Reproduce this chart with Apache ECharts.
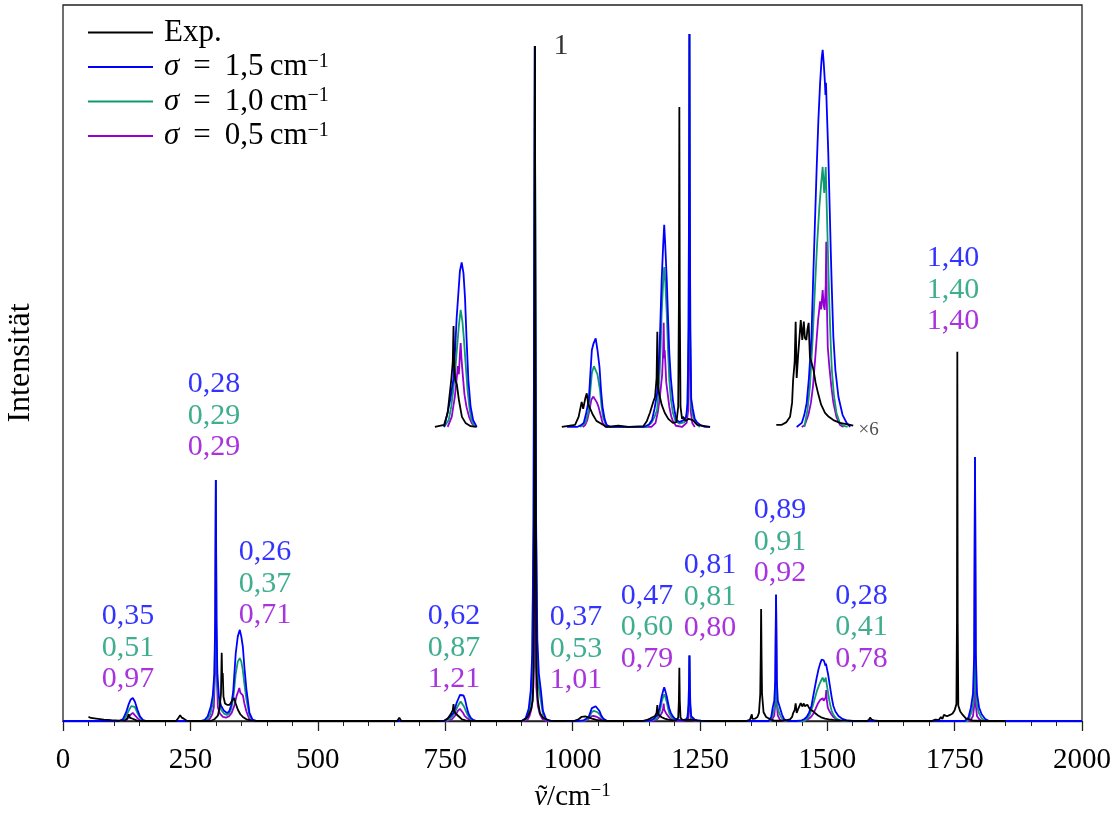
<!DOCTYPE html>
<html>
<head>
<meta charset="utf-8">
<script src="https://cdn.jsdelivr.net/npm/echarts@6/dist/echarts.min.js"></script>
<style>
html, body { margin: 0; padding: 0; background: #fff; }
#chart { width: 1114px; height: 821px; }
</style>
</head>
<body>
<div id="chart"></div>
<script>
// Intensitäten relativ zur Bande bei 926 cm-1 (= 100)
var expData = [
    [50,0.6],[55,0.45],[65,0.35],[80,0.2],[95,0.12],[110,0.05],[122,0.05],[126,0.4],[129,1.0],[131,0.5],[134,0.6],[138,0.3],[145,0.05],[160,0],
    [222,0],[226,0.4],[230,0.85],[233,0.5],[237,0.35],[243,0.05],[250,0],
    [290,0],[298,0.3],[304,0.8],[307.5,2.1],[310,4],[311.5,10.1],[312.5,6],[313.5,7.1],[315,3.6],[318,2.6],[322,2.4],[327,2.4],[332,3.0],[336,3.4],[339,2.6],[343,1.7],[348,1.0],[353,0.6],[360,0.25],[370,0.05],[380,0],
    [656,0],[660,0.5],[664,0],
    [730,0],[748,0.05],[755,0.35],[762,1.16],[765,1.6],[766.5,2.49],[768,1.5],[770,1.15],[773,1.05],[777,0.67],[783,0.25],[790,0.1],[800,0.02],[812,0],
    [900,0],[906,0.2],[912,0.6],[918,1.6],[922,3.0],[924,8],[925.3,40],[926.3,100],[927.5,40],[929,8],[932,3],[936,1.2],[942,0.5],[950,0.2],[960,0],
    [979,0],[1005,0.05],[1012,0.25],[1018,0.62],[1021,0.45],[1025,0.7],[1028,0.83],[1031,0.55],[1034,0.47],[1040,0.3],[1047,0.15],[1054,0.1],[1067,0],[1090,0.03],[1110,0],
    [1139,0.02],[1146,0.15],[1152,0.35],[1158,0.6],[1162,0.74],[1165,1.2],[1166.5,2.35],[1168,1.0],[1170,0.83],[1175,0.55],[1181,0.35],[1188,0.2],[1197,0.1],[1204,0.12],
    [1207.5,0.5],[1208.8,3],[1209.7,7.9],[1210.6,3],[1212,0.5],[1215,0.2],[1217,0.25],[1222,0.15],[1228,0.2],[1236,0.17],[1245,0.05],[1260,0.02],[1270,0],
    [1340,0],[1348,0.15],[1351,0.3],[1352,1.0],[1353,0.3],[1358,0.35],[1363,0.6],[1366,1.2],[1368.5,4],[1369.5,10],[1370.2,16.6],[1371,10],[1372,4],[1375,1.3],[1380,0.6],[1388,0.25],[1395,0.1],[1400,0.05],
    [1410,0.05],[1420,0.12],[1427,0.25],[1431,0.6],[1433,1.16],[1436,1.6],[1438,2.6],[1440,1.21],[1443,1.8],[1446,2.3],[1448,2.64],[1451,2.15],[1454,2.6],[1456,2.2],[1459,2.15],[1461,2.4],[1463.5,2.57],
    [1466,1.73],[1469,1.6],[1473,1.41],[1477,1.1],[1482,0.83],[1488,0.55],[1495.6,0.35],[1503,0.25],[1512,0.17],[1525,0.1],[1545,0.05],[1551,0.03],
    [1578,0],[1582,0.2],[1584,0.5],[1587,0.2],[1592,0.1],[1600,0],
    [1705,0],[1712,0.2],[1715,0.4],[1719,0.15],[1723,0.6],[1726,0.3],[1729,0.9],[1735,0.7],[1741,0.9],[1746,1.1],[1750,1.6],[1753.5,2.5],[1754.6,15],[1755.3,54.7],[1756,15],[1757.2,2.3],
    [1761,1.4],[1766,0.9],[1772,0.4],[1785,0.1],[1800,0],[1850,0]
];

var sigma15Data = [
    [0,0],[110,0],[118,0.3],[124,1.3],[129,2.5],[133,3.2],[137,3.4],[141,2.9],[146,1.7],[151,0.7],[157,0.15],[163,0],
    [270,0],[278,0.15],[284,0.7],[290,2.1],[294,3.8],[297,7],[298.8,15],[300,35.7],[301.2,15],[303,7],[306,3.6],[310,2.3],[316,1.5],[322,1.2],[326,1.4],
    [330,2.3],[334,4.3],[339,10],[343,12.5],[347,13.5],[350,12.5],[353,11],[356,8],[360,4.7],[366,1.2],[372,0.2],[380,0],
    [740,0],[748,0],[753,0.25],[760,0.67],[766,1.16],[770,2.0],[772.6,2.69],[776,3.3],[779,3.85],[782.5,4.06],[786,3.8],[789,3.2],[792,2.2],[795.6,1.16],[800,0.5],[805,0.17],[812,0],
    [900,0],[908,0.4],[914,1.8],[918,4.5],[921,10],[923.5,30],[926,100],[928.5,30],[931,12],[934,7],[938,4.5],[942,1.5],[948,0.3],[955,0],
    [989,0],[1009,0],[1016,0.04],[1022,0.1],[1027,0.35],[1032,0.67],[1035,1.3],[1038,1.9],[1041,2.05],[1045.5,2.19],[1049,1.9],[1053,1.48],[1056,0.9],[1059,0.49],[1063,0.2],[1067,0.05],[1075,0],
    [1140,0],[1150,0.06],[1156,0.17],[1161,0.45],[1166,0.83],[1169,1.4],[1171,1.98],[1173,2.8],[1175,3.63],[1178,4.5],[1180,4.99],[1182,4.5],[1185,3.63],[1187.5,2.7],[1190,1.83],[1193,1.2],[1197,0.67],[1201,0.35],[1204,0.17],
    [1210,0.12],[1218,0.17],[1223,0.25],[1226,0.6],[1227.8,2.5],[1228.8,6],[1229.5,9.7],[1230.2,6],[1231.2,2.5],[1233,0.7],[1236,0.45],[1240,0.2],[1244,0.12],[1252,0.04],[1260,0],[1270,0],
    [1385,0],[1390,0.6],[1393,2],[1396,3],[1398,6],[1399.5,18.7],[1401,6],[1403,3],[1407,2],[1411,1],[1415,0.3],[1422,0],
    [1440,0],[1450,0.1],[1455,0.3],[1459.6,0.59],[1464,1.2],[1469,2.22],[1472,3.5],[1476,5.11],[1479,6.3],[1482.6,7.58],[1486,8.5],[1489,9.1],[1491,9.31],[1493,9.0],[1495,8.6],[1496.5,8.2],
    [1497.5,8.5],[1499,7.9],[1502,6.77],[1505,5.3],[1507,4.3],[1509,3.4],[1512,2.22],[1516,1.4],[1522,0.74],[1530,0.3],[1538,0.1],[1545,0],
    [1770,0],[1777,0.5],[1782,2],[1786,4],[1788.5,10],[1790,39.1],[1791.5,10],[1794,4],[1798,2],[1803,1],[1810,0.3],[1818,0],[2000,0]
];

var sigma10Data = [
    [0,0],[115,0],[120,0.2],[125,0.9],[130,1.7],[134,2.2],[137,2.4],[141,2.1],[146,1.2],[151,0.5],[157,0.1],[163,0],
    [275,0],[283,0.2],[289,1.0],[294,2.6],[297,5.5],[299,14],[300,35.7],[301,14],[303,5.5],[306,2.8],[310,1.7],[316,1.1],[322,0.9],[326,1.1],
    [330,1.8],[334,3.2],[339,7],[343,8.8],[347,9.3],[350,8.8],[353,7.5],[356,5.5],[360,3.2],[366,0.8],[372,0.1],[380,0],
    [748,0],[757,0.17],[762,0.5],[766,0.91],[770,1.4],[773,1.9],[777,2.5],[780.5,2.89],[784,2.6],[787,2.15],[790,1.6],[794,0.91],[798,0.45],[802,0.17],[808,0],
    [900,0],[908,0.2],[914,1.2],[918,3.0],[921,8],[923.5,28],[926,100],[928.5,28],[931,9],[934,5],[938,3],[942,1],[948,0.2],[955,0],
    [1015,0],[1025,0.1],[1032,0.42],[1035,0.9],[1038,1.33],[1042,1.5],[1045.5,1.53],[1049,1.3],[1054,0.91],[1057,0.5],[1060,0.25],[1065,0.07],[1072,0],
    [1145,0],[1155,0.1],[1161,0.25],[1166,0.42],[1169,0.9],[1171,1.33],[1173,2.0],[1175,2.81],[1178,3.6],[1180,3.95],[1182,3.6],[1185,2.81],[1187.5,1.9],[1190,1.16],[1193,0.7],[1197,0.35],[1202,0.15],
    [1210,0.08],[1220,0.12],[1225,0.35],[1227.8,2.2],[1228.8,6],[1229.5,9.7],[1230.2,6],[1231.2,2.2],[1233,0.5],[1236,0.3],[1241,0.1],[1250,0],
    [1388,0],[1390,0.3],[1394,1.2],[1397,2.2],[1398.7,6],[1399.5,18.7],[1400.3,6],[1402,2.2],[1405,1.3],[1410,0.5],[1418,0],
    [1455,0],[1461,0.4],[1466,1.0],[1471,2.1],[1476,3.46],[1480,4.5],[1484.5,5.43],[1488,6.0],[1491,6.42],[1494,5.78],[1497,6.42],[1499,5.43],[1502,4.0],[1504,3.06],[1507,2.0],[1509,1.41],
    [1513,0.8],[1518,0.35],[1524,0.12],[1531,0.03],[1540,0],
    [1775,0],[1778,0.3],[1784,1.5],[1787,2.8],[1789,8],[1790,39.1],[1791,8],[1793,2.8],[1797,1.3],[1803,0.4],[1810,0],[2000,0]
];

var sigma05Data = [
    [0,0],[120,0],[124,0.1],[128,0.45],[132,0.9],[135,1.1],[137,1.2],[140,1.0],[143,0.7],[147,0.35],[152,0.1],[158,0],
    [282,0],[288,0.3],[293,1.0],[296,2],[298.7,8],[300,35.7],[301.3,8],[304,2],[308,1.1],[314,0.6],[320,0.5],[326,0.7],
    [331,1.2],[336,2.2],[341,3.8],[344,4.4],[346,4.9],[348,4.2],[350,4.4],[353,3.8],[356,2.6],[360,1.4],[365,0.4],[370,0],
    [755,0],[763,0.25],[766,0.5],[769,0.74],[772,1.1],[775,1.5],[777,1.3],[779,1.8],[780.5,2.07],[782,1.7],[785,1.23],[788,0.8],[792,0.49],[797,0.25],[802,0.1],[808,0],
    [905,0],[912,0.2],[916,0.8],[920,2],[923,5],[924.5,20],[926,100],[927.5,20],[929,5],[932,2.2],[936,1],[941,0.3],[948,0],
    [1020,0],[1025,0.05],[1029,0.17],[1033,0.4],[1037,0.67],[1041,0.75],[1044,0.79],[1048,0.6],[1051,0.5],[1054,0.35],[1059,0.1],[1065,0],
    [1155,0],[1163,0.1],[1168,0.4],[1172,0.8],[1176,1.3],[1178,1.9],[1179,2.57],[1180,1.7],[1181,1.9],[1184,1.1],[1187,0.8],[1190,0.5],[1194,0.25],[1197,0.15],[1203,0.03],
    [1215,0],[1224,0.1],[1227,0.4],[1228.5,2.5],[1229.5,9.7],[1230.5,2.5],[1232,0.4],[1235,0.1],[1240,0],
    [1390,0],[1392,0.2],[1396,0.8],[1398,2.5],[1399.5,18.7],[1401,2.5],[1403,0.8],[1407,0.2],[1412,0],
    [1450,0],[1456,0.05],[1463,0.3],[1468,0.6],[1472,1.0],[1477,1.8],[1482,2.64],[1486,3.1],[1488,2.9],[1491,3.38],[1493,3.0],[1495,2.89],[1497,3.5],[1498,4.57],[1499,3.2],[1501,1.98],
    [1504,1.5],[1508,1.0],[1512,0.6],[1518,0.25],[1525,0.05],[1532,0],
    [1780,0],[1782,0.2],[1786,0.7],[1788.5,2.3],[1790,39.1],[1791.5,2.3],[1794,0.7],[1799,0.2],[1805,0],[2000,0]
];

// Vergrößerter Ausschnitt (x6), nach oben versetzt
var insetScale = 6;
var insetOffset = 43.56;
var insetRangesExp = [[730, 812], [979, 1270], [1400, 1551]];
var insetRangesSim = [[748, 812], [989, 1270], [1440, 1545]];

// Zahlen über den Banden: [sigma 1,5; sigma 1,0; sigma 0,5]
var peakLabelText = [
    ['0,35', '0,51', '0,97'],
    ['0,28', '0,29', '0,29'],
    ['0,26', '0,37', '0,71'],
    ['0,62', '0,87', '1,21'],
    ['0,37', '0,53', '1,01'],
    ['0,47', '0,60', '0,79'],
    ['0,81', '0,81', '0,80'],
    ['0,89', '0,91', '0,92'],
    ['0,28', '0,41', '0,78'],
    ['1,40', '1,40', '1,40']
];
var peakLabelAnchors = [
    [127.6, 10.8], [296.4, 45.2], [396.5, 20.3], [767.4, 10.8], [1006.9, 10.7],
    [1146.2, 13.9], [1269.9, 18.4], [1407.3, 26.5], [1567.2, 13.9], [1746.8, 63.9]
];

var colors = { exp: '#000000', s15: '#0000ff', s10: '#0f9a72', s05: '#9400d3' };
var serif = '"Liberation Serif", "DejaVu Serif", serif';
var names = { exp: 'Exp.', s15: 's15', s10: 's10', s05: 's05' };
var legendText = {
    'Exp.': 'Exp.',
    's15': '{i|σ} \u2009=\u2009 1,5\u2009cm{sup|−1}',
    's10': '{i|σ} \u2009=\u2009 1,0\u2009cm{sup|−1}',
    's05': '{i|σ} \u2009=\u2009 0,5\u2009cm{sup|−1}'
};

var lineSeries = function (name, color, data, width) {
    return {
        name: name,
        type: 'line',
        data: data,
        showSymbol: false,
        symbol: 'none',
        silent: true,
        lineStyle: { color: color, width: width || 1.8 },
        itemStyle: { color: color }
    };
};

var toInset = function (data, range) {
    var out = [];
    for (var i = 0; i < data.length; i++) {
        if (data[i][0] >= range[0] && data[i][0] <= range[1]) {
            out.push([data[i][0], data[i][1] * insetScale + insetOffset]);
        }
    }
    return out;
};

var series = [];
var order = [['s05', sigma05Data], ['s10', sigma10Data], ['s15', sigma15Data], ['exp', expData]];
for (var k = 0; k < order.length; k++) {
    var key = order[k][0];
    series.push(lineSeries(names[key], colors[key], order[k][1]));
}
for (var k2 = 0; k2 < order.length; k2++) {
    var key2 = order[k2][0];
    var ranges = key2 === 'exp' ? insetRangesExp : insetRangesSim;
    for (var r = 0; r < ranges.length; r++) {
        series.push(lineSeries(names[key2], colors[key2], toInset(order[k2][1], ranges[r])));
    }
}

// Beschriftungen
var labelData = [];
for (var j = 0; j < peakLabelText.length; j++) {
    labelData.push({
        value: peakLabelAnchors[j],
        label: {
            formatter: '{b|' + peakLabelText[j][0] + '}\n{g|' + peakLabelText[j][1] + '}\n{p|' + peakLabelText[j][2] + '}'
        }
    });
}
labelData.push({ value: [977.4, 100], label: { formatter: '{k|1}' } });
labelData.push({ value: [1581, 43.1], label: { formatter: '{s|×6}' } });

series.push({
    type: 'scatter',
    data: labelData,
    symbolSize: 0,
    silent: true,
    z: 10,
    label: {
        show: true,
        position: 'inside',
        fontFamily: serif,
        rich: {
            b: { color: colors.s15, fontSize: 30, fontFamily: serif, lineHeight: 31.5 },
            g: { color: colors.s10, fontSize: 30, fontFamily: serif, lineHeight: 31.5 },
            p: { color: colors.s05, fontSize: 30, fontFamily: serif, lineHeight: 31.5 },
            k: { color: '#000', fontSize: 30, fontFamily: serif },
            s: { color: '#222', fontSize: 19, fontFamily: serif }
        }
    }
});

// Tilde über dem nu der x-Achsenbeschriftung
var nameFont = 29, supFont = 19, nameGap = 61;
var ctx = document.createElement('canvas').getContext('2d');
ctx.font = 'italic ' + nameFont + 'px "Liberation Serif"';
var wNu = ctx.measureText('ν').width;
ctx.font = nameFont + 'px "Liberation Serif"';
var wRest = ctx.measureText('/cm').width;
ctx.font = supFont + 'px "Liberation Serif"';
var wSup = ctx.measureText('−1').width;
var nameLeft = (63 + 1082) / 2 - (wNu + wRest + wSup) / 2;

var chart = echarts.init(document.getElementById('chart'));
var option = {
    animation: false,
    backgroundColor: '#fff',
    grid: {
        left: 63,
        right: 32,
        top: 5,
        bottom: 100,
        show: true,
        borderColor: '#222',
        borderWidth: 1.3,
        containLabel: false,
        outerBoundsMode: 'none'
    },
    legend: {
        data: ['Exp.', 's15', 's10', 's05'],
        orient: 'vertical',
        left: 88,
        top: 17,
        padding: 0,
        itemGap: 3.5,
        itemWidth: 65,
        itemHeight: 2,
        icon: 'rect',
        selectedMode: false,
        formatter: function (name) { return legendText[name]; },
        textStyle: {
            fontFamily: serif,
            fontSize: 31,
            color: '#000',
            lineHeight: 31,
            padding: [0, 0, 0, 6],
            rich: {
                i: { fontStyle: 'italic', fontSize: 31, fontFamily: serif, lineHeight: 31 },
                sup: { fontSize: 20, fontFamily: serif, verticalAlign: 'top', lineHeight: 18 }
            }
        }
    },
    graphic: [{
        type: 'text',
        x: nameLeft + wNu / 2 + 2,
        y: 721 + nameGap + 15.5,
        silent: true,
        style: {
            text: '˜',
            font: nameFont + 'px "Liberation Serif"',
            fill: '#000',
            align: 'center',
            verticalAlign: 'middle'
        }
    }],
    xAxis: {
        type: 'value',
        min: 0,
        max: 2000,
        interval: 250,
        name: '{i|ν}/cm{sup|−1}',
        nameLocation: 'middle',
        nameGap: nameGap,
        nameTextStyle: {
            fontFamily: serif,
            fontSize: nameFont,
            color: '#000',
            lineHeight: 31,
            rich: {
                i: { fontStyle: 'italic', fontSize: nameFont, fontFamily: serif, lineHeight: 31 },
                sup: { fontSize: supFont, fontFamily: serif, verticalAlign: 'top', lineHeight: 18 }
            }
        },
        axisLine: { show: true, lineStyle: { color: '#222', width: 1.3 } },
        axisTick: { show: true, length: 10, lineStyle: { color: '#222', width: 1.3 } },
        minorTick: { show: true, splitNumber: 5, length: 5, lineStyle: { color: '#222', width: 1 } },
        splitLine: { show: false },
        axisLabel: {
            fontFamily: serif,
            fontSize: 29,
            color: '#000',
            margin: 25,
            formatter: function (v) { return String(v); }
        }
    },
    yAxis: {
        type: 'value',
        min: 0,
        max: 106.07,
        name: 'Intensität',
        nameLocation: 'middle',
        nameGap: 26,
        nameRotate: 90,
        nameTextStyle: { fontFamily: serif, fontSize: 32, color: '#000' },
        axisLine: { show: false },
        axisTick: { show: false },
        axisLabel: { show: false },
        splitLine: { show: false }
    },
    series: series
};
chart.setOption(option);
</script>
</body>
</html>
